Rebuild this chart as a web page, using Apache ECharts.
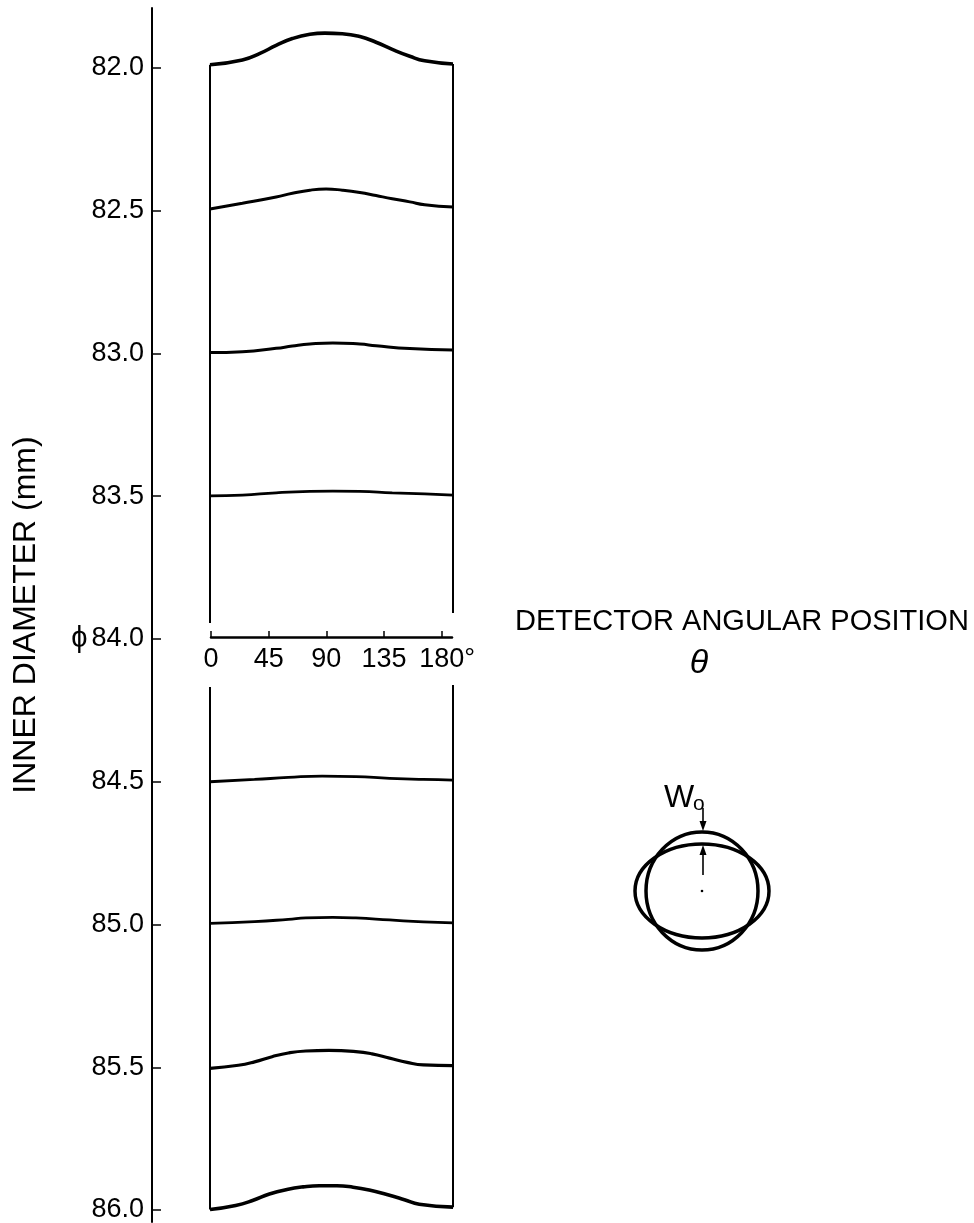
<!DOCTYPE html>
<html><head><meta charset="utf-8">
<script src="https://cdn.jsdelivr.net/npm/echarts@6/dist/echarts.min.js"></script>
<style>html,body{margin:0;padding:0;background:#fff}#c{width:974px;height:1223px}</style>
</head><body><div id="c"></div>
<script>
// ---- data ----
const yTicks = [82.0, 82.5, 83.0, 83.5, 84.0, 84.5, 85.0, 85.5, 86.0];
const xTicks = [0, 45, 90, 135, 180];
// curves: [angle (deg), inner diameter (mm)]
const curve820 = [[0,81.989],[24,81.972],[37,81.949],[49,81.921],[61,81.897],[74,81.882],[85,81.878],[98,81.880],[111,81.890],[123,81.910],[135,81.935],[148,81.959],[159,81.975],[180,81.986]];
const curve825 = [[0,82.494],[24,82.474],[49,82.452],[61,82.439],[74,82.428],[86,82.424],[98,82.428],[111,82.436],[123,82.447],[135,82.458],[148,82.469],[159,82.479],[180,82.487]];
const curve830 = [[0,82.997],[24,82.994],[49,82.982],[61,82.974],[74,82.967],[91,82.963],[111,82.967],[123,82.973],[148,82.983],[180,82.988]];
const curve835 = [[0,83.499],[24,83.496],[49,83.488],[74,83.483],[91,83.482],[111,83.483],[135,83.488],[159,83.492],[180,83.496]];
const curve845 = [[0,84.500],[33,84.492],[58,84.485],[83,84.480],[108,84.482],[133,84.488],[158,84.492],[180,84.494]];
const curve850 = [[0,84.996],[33,84.990],[58,84.982],[71,84.977],[91,84.975],[108,84.977],[133,84.984],[158,84.991],[180,84.994]];
const curve855 = [[0,85.504],[21,85.493],[33,85.481],[46,85.463],[58,85.450],[71,85.443],[88,85.441],[108,85.445],[120,85.453],[133,85.468],[146,85.483],[158,85.492],[180,85.494]];
const curve860 = [[0,85.998],[19,85.984],[32,85.966],[44,85.944],[57,85.928],[69,85.919],[81,85.915],[94,85.915],[106,85.920],[118,85.930],[131,85.946],[144,85.964],[155,85.980],[180,85.990]];
// frame (side) lines, broken around the angle scale
const leftFrameUpper  = [[0,81.989],[0,83.944]];
const leftFrameLower  = [[0,84.168],[0,85.998]];
const rightFrameUpper = [[180,81.986],[180,83.909]];
const rightFrameLower = [[180,84.161],[180,85.990]];

const curves = [curve820, curve825, curve830, curve835, curve845, curve850, curve855, curve860];
const curveWidths = [3.6, 3, 3, 2.8, 2.8, 2.8, 3.2, 3.6];
const frames = [leftFrameUpper, leftFrameLower, rightFrameUpper, rightFrameLower];

const FONT = '"Liberation Sans", Arial, Helvetica, sans-serif';
const chart = echarts.init(document.getElementById('c'), null, {renderer: 'canvas'});

const series = [];
curves.forEach((c, i) => series.push({
  type: 'line', xAxisIndex: 0, yAxisIndex: 0, data: c, smooth: 0.5,
  symbol: 'none', silent: true, animation: false,
  lineStyle: {color: '#000', width: curveWidths[i]}
}));
frames.forEach(f => series.push({
  type: 'line', xAxisIndex: 0, yAxisIndex: 0, data: f, symbol: 'none',
  silent: true, animation: false, lineStyle: {color: '#000', width: 2}
}));

const option = {
  backgroundColor: '#fff',
  animation: false,
  grid: [
    {left: 210, width: 243, top: 8, height: 1214, containLabel: false, outerBoundsMode: 'none'},
    {left: 211, width: 241, top: 636, height: 1, containLabel: false, outerBoundsMode: 'none'}
  ],
  xAxis: [
    {gridIndex: 0, type: 'value', min: 0, max: 180, show: false},
    {gridIndex: 1, type: 'value', min: 0, max: 188, position: 'bottom',
     axisLine: {show: true, onZero: false, lineStyle: {color: '#000', width: 2.5}},
     axisTick: {show: true, inside: true, length: 6, customValues: xTicks, lineStyle: {color: '#000', width: 1.5}},
     axisLabel: {customValues: xTicks, margin: 9, color: '#000', fontSize: 27, fontFamily: FONT,
       formatter: v => v === 180 ? '{p|}180°' : String(v),
       rich: {p: {width: 11}}},
     splitLine: {show: false}}
  ],
  yAxis: [
    {gridIndex: 0, type: 'value', inverse: true, min: 81.79, max: 86.042, position: 'left', offset: 58,
     axisLine: {show: true, onZero: false, lineStyle: {color: '#000', width: 2}},
     axisTick: {show: true, inside: true, length: 9, customValues: yTicks, lineStyle: {color: '#000', width: 1.5}},
     axisLabel: {customValues: yTicks, margin: 8, color: '#000', fontSize: 27, fontFamily: FONT,
       formatter: v => (Math.abs(v - 84) < 1e-6 ? '{phi|ϕ}' : '') + v.toFixed(1),
       rich: {phi: {fontSize: 29, fontFamily: FONT, color: '#000', padding: [0, 4, 0, 0]}}},
     splitLine: {show: false},
     name: 'INNER DIAMETER (mm)', nameLocation: 'middle', nameRotate: 90, nameGap: 110,
     nameTextStyle: {color: '#000', fontSize: 32, fontFamily: FONT}},
    {gridIndex: 1, type: 'value', min: 0, max: 1, show: false}
  ],
  graphic: [
    {type: 'text', x: 515, y: 622, style: {text: 'DETECTOR ANGULAR POSITION', fill: '#000',
      font: '29px ' + FONT, textAlign: 'left', textVerticalAlign: 'middle'}},
    {type: 'text', x: 699, y: 664, style: {text: 'θ', fill: '#000',
      font: 'italic 34px ' + FONT, textAlign: 'center', textVerticalAlign: 'middle'}},
    {type: 'ellipse', shape: {cx: 702, cy: 891, rx: 56, ry: 59}, style: {fill: 'none', stroke: '#000', lineWidth: 3.5}},
    {type: 'ellipse', shape: {cx: 702, cy: 891, rx: 67, ry: 47}, style: {fill: 'none', stroke: '#000', lineWidth: 3.5}},
    {type: 'circle', shape: {cx: 702, cy: 891, r: 1.3}, style: {fill: '#000'}},
    {type: 'text', x: 664, y: 798, style: {text: 'W', fill: '#000', font: '32px ' + FONT, textAlign: 'left', textVerticalAlign: 'middle'}},
    {type: 'text', x: 693, y: 804, style: {text: 'o', fill: '#000', font: '21px ' + FONT, textAlign: 'left', textVerticalAlign: 'middle'}},
    {type: 'line', shape: {x1: 703, y1: 808, x2: 703, y2: 826}, style: {stroke: '#000', lineWidth: 1.6}},
    {type: 'polygon', shape: {points: [[699.5, 821], [706.5, 821], [703, 831]]}, style: {fill: '#000'}},
    {type: 'line', shape: {x1: 703, y1: 875, x2: 703, y2: 851}, style: {stroke: '#000', lineWidth: 1.6}},
    {type: 'polygon', shape: {points: [[699.5, 855], [706.5, 855], [703, 845]]}, style: {fill: '#000'}}
  ],
  series: series
};
chart.setOption(option);
</script>
</body></html>
